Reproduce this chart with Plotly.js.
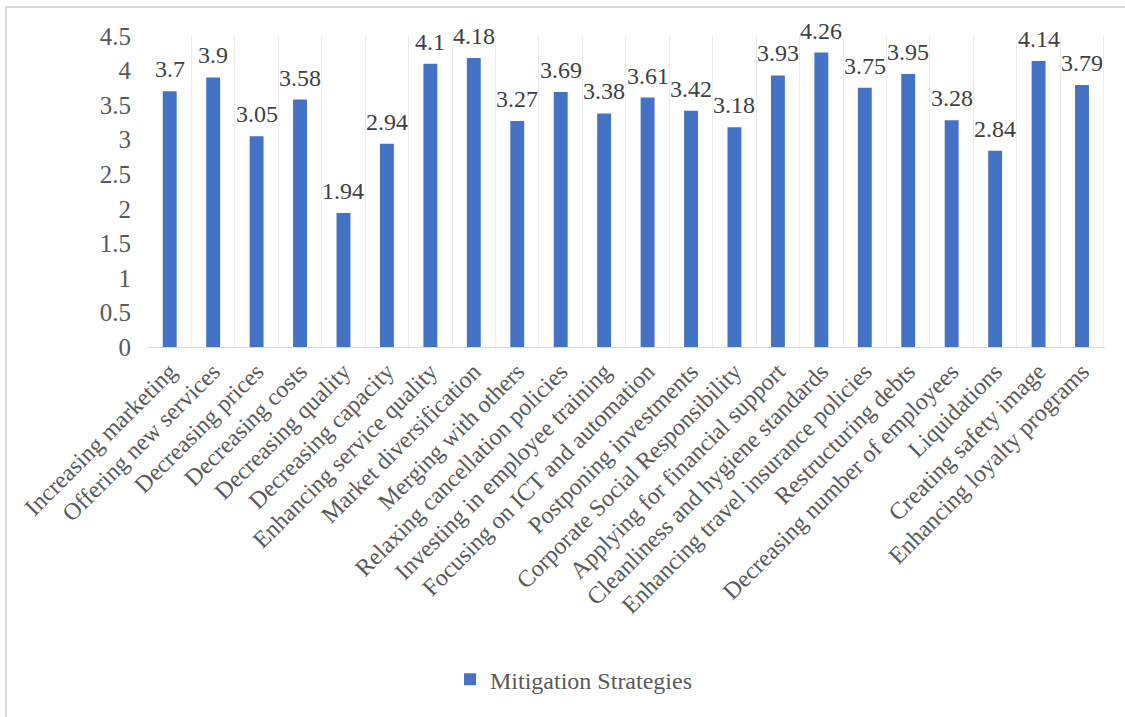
<!DOCTYPE html>
<html>
<head>
<meta charset="utf-8">
<script src="https://cdn.plot.ly/plotly-3.0.1.min.js"></script>
<style>
html,body{margin:0;padding:0;background:#fff;overflow:hidden;}
#frame{position:absolute;left:5px;top:6px;width:1130px;height:730px;border-left:2px solid #d9d9d9;border-top:2px solid #d9d9d9;}
#chart{position:absolute;left:0;top:0;width:1125px;height:717px;}
</style>
</head>
<body>
<div id="frame"></div>
<div id="chart"></div>
<script>
const categories = [
  "Increasing marketing","Offering new services","Decreasing prices","Decreasing costs",
  "Decreasing quality","Decreasing capacity","Enhancing service quality","Market diversification",
  "Merging with others","Relaxing cancellation policies","Investing in employee training",
  "Focusing on ICT and automation","Postponing investments","Corporate Social Responsibility",
  "Applying for financial support","Cleanliness and hygiene standards","Enhancing travel insurance policies",
  "Restructuring debts","Decreasing number of employees","Liquidations","Creating safety image",
  "Enhancing loyalty programs"
];
const values = [3.7,3.9,3.05,3.58,1.94,2.94,4.1,4.18,3.27,3.69,3.38,3.61,3.42,3.18,3.93,4.26,3.75,3.95,3.28,2.84,4.14,3.79];
const seriesName = "Mitigation Strategies";
const yTicks = [0,0.5,1,1.5,2,2.5,3,3.5,4,4.5];

const font = "Liberation Serif";
const annotations = categories.map((c, i) => ({
  x: c, y: values[i], xref: 'x', yref: 'y', text: String(values[i]),
  showarrow: false, yanchor: 'bottom', yshift: 7,
  font: {family: font, size: 24, color: '#404040'}
}));

Plotly.newPlot('chart', [{
  type:'bar', x:categories, y:values, name:seriesName,
  marker:{color:'#4472C4'},
  showlegend:true
}], {
  width:1125, height:717,
  paper_bgcolor:'rgba(0,0,0,0)', plot_bgcolor:'rgba(0,0,0,0)',
  margin:{l:148,r:20,t:36,b:370},
  bargap:0.68,
  font:{family:font,size:24,color:'#595959'},
  annotations: annotations,
  xaxis:{type:'category', tickangle:-45, tickson:'boundaries', showgrid:true, gridcolor:'#ececec',
    showline:true, linecolor:'#d9d9d9', linewidth:1, ticks:'', automargin:false,
    tickfont:{family:font,size:24,color:'#595959'}},
  yaxis:{range:[0,4.5], tickvals:yTicks, ticktext:yTicks.map(String), showgrid:false, zeroline:false,
    showline:false, ticks:'', ticklabelstandoff:16, automargin:false,
    tickfont:{family:font,size:25,color:'#595959'}},
  legend:{orientation:'h', x:0.3156, xanchor:'left', y:-1.07, yanchor:'middle',
    font:{family:font,size:24,color:'#595959'}}
}, {displayModeBar:false, staticPlot:true});
</script>
</body>
</html>
